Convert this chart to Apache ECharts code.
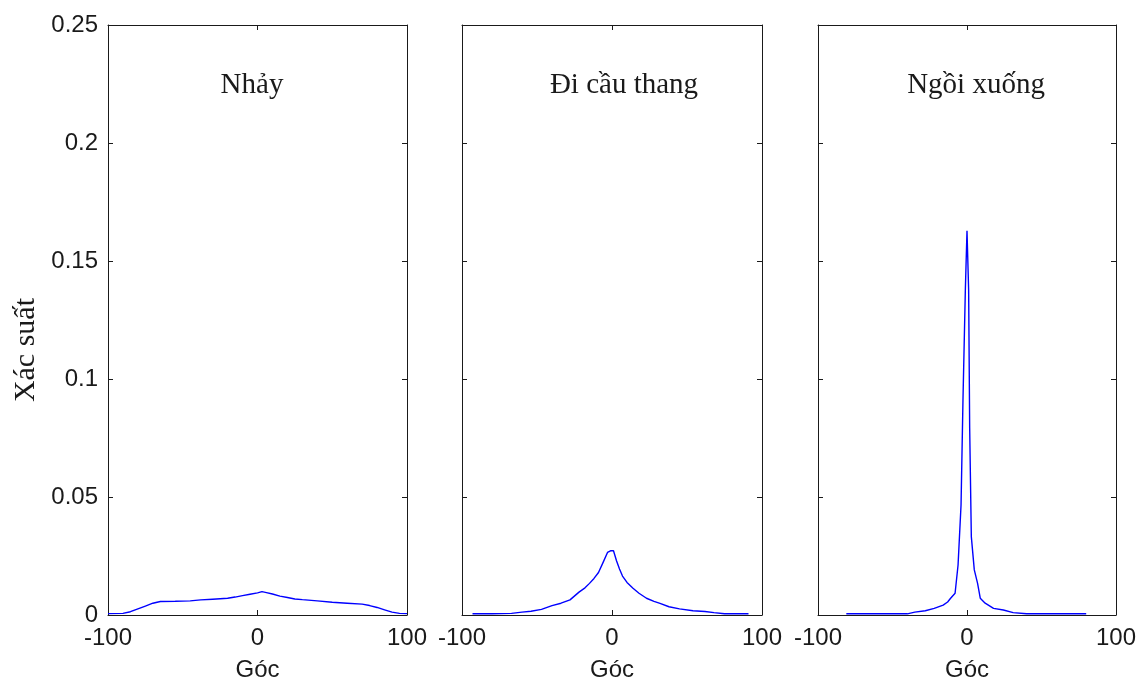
<!DOCTYPE html>
<html>
<head>
<meta charset="utf-8">
<script src="https://cdn.jsdelivr.net/npm/echarts@6/dist/echarts.min.js"></script>
<style>
html,body{margin:0;padding:0;background:#fff;}
#chart{width:1140px;height:684px;}
</style>
</head>
<body>
<div id="chart"></div>
<script>
// ---- data ----
const panelTitles = ['Nhảy', 'Đi cầu thang', 'Ngồi xuống'];
const xTickValues = [-100, 0, 100];
const yTickValues = [0, 0.05, 0.1, 0.15, 0.2, 0.25];
const xLabel = 'Góc';
const yLabel = 'Xác suất';

// Nhảy
const angles1 = [-100, -90, -85, -80, -75, -70, -65, -55, -45, -38, -30, -20, -15, -10, -5, 0, 3, 6, 10, 15, 20, 25, 30, 40, 50, 60, 70, 75, 80, 85, 90, 95, 100];
const prob1   = [0.0006, 0.0007, 0.0014, 0.0026, 0.0038, 0.0050, 0.0057, 0.0058, 0.0060, 0.0064, 0.0067, 0.0071, 0.0076, 0.0082, 0.0088, 0.0094, 0.0099, 0.0095, 0.0089, 0.0080, 0.0074, 0.0068, 0.0065, 0.0060, 0.0054, 0.0050, 0.0046, 0.0040, 0.0032, 0.0022, 0.0012, 0.0007, 0.0006];

// Đi cầu thang
const angles2 = [-93, -80, -67, -60, -54, -47, -40, -34, -28, -22, -18, -15, -12, -9, -6, -3, -1, 1, 3, 5, 7, 10, 14, 18, 23, 28, 32, 38, 45, 54, 62, 68, 75, 91];
const prob2   = [0.0005, 0.0005, 0.0007, 0.0012, 0.0016, 0.0024, 0.0040, 0.0050, 0.0064, 0.0097, 0.0115, 0.0134, 0.0155, 0.0180, 0.0222, 0.0265, 0.0272, 0.0272, 0.0230, 0.0195, 0.0165, 0.0138, 0.0113, 0.0092, 0.0071, 0.0058, 0.0049, 0.0035, 0.0026, 0.0018, 0.0015, 0.0010, 0.0005, 0.0005];

// Ngồi xuống
const angles3 = [-81, -40, -35, -28, -22, -16, -13, -11, -8, -6, -4, -2.7, -1.1, 0, 1.1, 1.8, 2.9, 4.9, 7.1, 8.9, 12.2, 17.8, 24.4, 31, 40, 80];
const prob3   = [0.0005, 0.0005, 0.0012, 0.0018, 0.0028, 0.0042, 0.0055, 0.0071, 0.0092, 0.0212, 0.0466, 0.0911, 0.138, 0.1628, 0.1377, 0.0791, 0.0332, 0.0191, 0.0134, 0.0071, 0.005, 0.0028, 0.0021, 0.0010, 0.0005, 0.0005];

// ---- chart ----
const panels = [
  {x: angles1, y: prob1},
  {x: angles2, y: prob2},
  {x: angles3, y: prob3}
];
const gridLefts = [108, 462, 818];
const gridWidths = [299, 300, 298];
const titleCenters = [247, 619, 971];
const ink = '#1a1a1a';
const xMin = xTickValues[0], xMax = xTickValues[xTickValues.length - 1];
const xInterval = xTickValues[1] - xTickValues[0];
const yMin = yTickValues[0], yMax = yTickValues[yTickValues.length - 1];
const yInterval = yTickValues[1] - yTickValues[0];

const grids = [], xAxes = [], yAxes = [], series = [], titles = [];
panels.forEach((p, i) => {
  grids.push({left: gridLefts[i], width: gridWidths[i], top: 25, bottom: 69, containLabel: false, outerBoundsMode: 'none'});
  const axisLine = {show: true, onZero: false, lineStyle: {color: ink, width: 1}};
  const tick = {show: true, inside: true, length: 5, lineStyle: {color: ink, width: 1}};
  xAxes.push({
    gridIndex: i, type: 'value', position: 'bottom', min: xMin, max: xMax, interval: xInterval,
    axisLine, axisTick: tick, splitLine: {show: false},
    axisLabel: {show: true, fontSize: 24, color: ink, fontFamily: 'Liberation Sans, Arial', margin: 11},
    name: xLabel, nameLocation: 'middle', nameGap: 43,
    nameTextStyle: {fontSize: 24, color: ink, fontFamily: 'Liberation Sans, Arial'}
  });
  xAxes.push({
    gridIndex: i, type: 'value', position: 'top', min: xMin, max: xMax, interval: xInterval,
    axisLine, axisTick: tick, splitLine: {show: false}, axisLabel: {show: false}
  });
  yAxes.push({
    gridIndex: i, type: 'value', position: 'left', min: yMin, max: yMax, interval: yInterval,
    axisLine, axisTick: tick, splitLine: {show: false},
    axisLabel: {show: i === 0, fontSize: 24, color: ink, fontFamily: 'Liberation Sans, Arial', margin: 10}
  });
  yAxes.push({
    gridIndex: i, type: 'value', position: 'right', min: yMin, max: yMax, interval: yInterval,
    axisLine, axisTick: tick, splitLine: {show: false}, axisLabel: {show: false}
  });
  series.push({
    type: 'line', xAxisIndex: 2 * i, yAxisIndex: 2 * i,
    data: p.x.map((v, k) => [v, p.y[k]]),
    showSymbol: false, symbol: 'none', animation: false,
    lineStyle: {color: '#0000ff', width: 1.4}
  });
  titles.push({
    text: panelTitles[i], left: titleCenters[i], top: 66, textAlign: 'center',
    textStyle: {fontSize: 29, fontWeight: 'normal', color: ink, fontFamily: 'Liberation Serif, Times New Roman, serif'}
  });
});

const chart = echarts.init(document.getElementById('chart'), null, {renderer: 'canvas'});
chart.setOption({
  backgroundColor: '#ffffff',
  animation: false,
  title: titles,
  grid: grids,
  xAxis: xAxes,
  yAxis: yAxes,
  series: series,
  graphic: [{
    type: 'text', left: 11, top: 298, rotation: Math.PI / 2,
    style: {text: yLabel, fontSize: 30, fill: ink, fontFamily: 'Liberation Serif, Times New Roman, serif',
            textAlign: 'center', textVerticalAlign: 'middle'}
  }]
});
</script>
</body>
</html>
